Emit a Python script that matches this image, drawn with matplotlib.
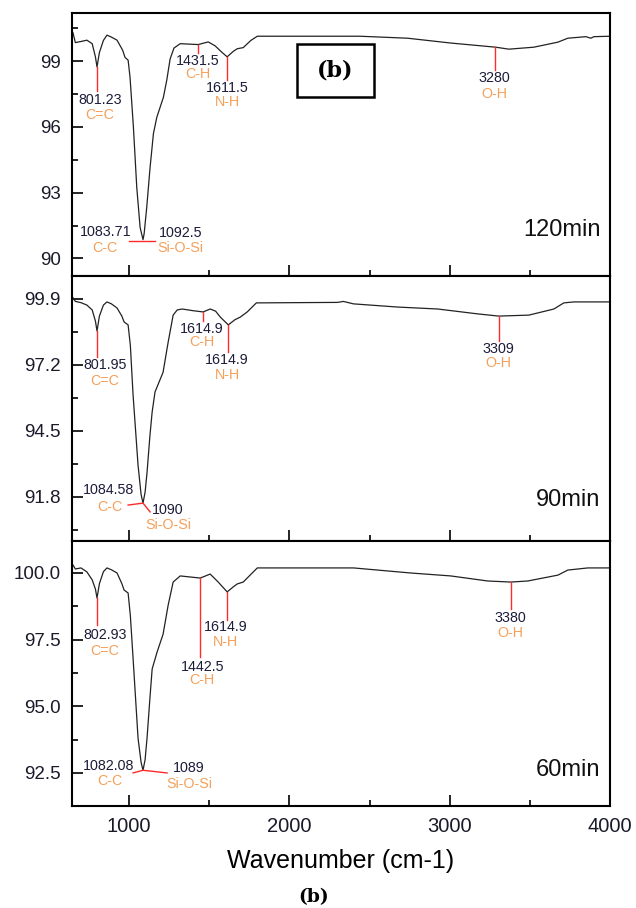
import numpy as np
import matplotlib.pyplot as plt
from matplotlib.patches import Rectangle
from matplotlib.ticker import MultipleLocator

plt.rcParams['font.family'] = ['Liberation Sans', 'DejaVu Sans']

# FTIR transmittance spectra (wavenumber, %T)
wn_120 = [650, 665, 700, 737, 770, 790, 800, 815, 840, 862, 890, 925, 960, 975, 994,
          1006, 1027, 1048, 1069, 1087, 1094, 1110, 1131, 1152, 1173, 1214, 1235, 1256,
          1280, 1319, 1431, 1494, 1537, 1580, 1612, 1650, 1675, 1712, 1760, 1800, 2440,
          2737, 3006, 3287, 3369, 3525, 3675, 3737, 3850, 3880, 3900, 4000]
t_120 = [100.3, 99.85, 99.9, 99.96, 99.8, 99.2, 98.74, 99.4, 99.95, 100.19, 100.1, 99.96,
         99.5, 99.17, 99.05, 98.27, 96.0, 93.24, 91.41, 90.86, 91.13, 92.32, 94.15, 95.7,
         96.44, 97.35, 98.13, 99.1, 99.6, 99.8, 99.76, 99.88, 99.7, 99.4, 99.2, 99.45,
         99.57, 99.62, 99.95, 100.14, 100.14, 100.05, 99.83, 99.64, 99.55, 99.64, 99.87,
         100.05, 100.12, 100.05, 100.12, 100.14]

wn_90 = [650, 665, 700, 737, 770, 790, 800, 815, 840, 862, 890, 925, 955, 969, 994,
         1008, 1025, 1056, 1075, 1087, 1100, 1112, 1130, 1144, 1162, 1212, 1244, 1275,
         1300, 1331, 1400, 1462, 1506, 1540, 1569, 1619, 1660, 1694, 1737, 1794, 2300,
         2337, 2400, 2675, 2925, 3175, 3306, 3494, 3650, 3712, 3775, 4000]
t_90 = [99.95, 99.8, 99.75, 99.65, 99.45, 99.0, 98.59, 99.2, 99.65, 99.78, 99.7, 99.53,
        99.2, 98.96, 98.84, 98.0, 95.97, 93.1, 91.9, 91.55, 92.0, 92.8, 94.3, 95.28, 96.1,
        96.9, 98.14, 99.24, 99.45, 99.49, 99.42, 99.37, 99.49, 99.4, 99.16, 98.84, 99.05,
        99.16, 99.37, 99.74, 99.76, 99.8, 99.7, 99.57, 99.49, 99.29, 99.2, 99.24, 99.49,
        99.74, 99.78, 99.78]

wn_60 = [650, 665, 700, 737, 770, 790, 800, 815, 840, 862, 890, 925, 955, 969, 994,
         1008, 1025, 1056, 1075, 1087, 1100, 1112, 1130, 1144, 1175, 1212, 1244, 1275,
         1319, 1444, 1506, 1556, 1612, 1650, 1675, 1712, 1760, 1800, 2400, 2756, 3006,
         3237, 3381, 3487, 3675, 3737, 3862, 4000]
t_60 = [100.3, 100.15, 100.19, 100.04, 99.74, 99.4, 99.06, 99.6, 100.05, 100.19, 100.12,
        100.0, 99.6, 99.36, 99.25, 98.4, 96.8, 93.8, 92.9, 92.6, 93.0, 93.8, 95.3, 96.4,
        97.04, 97.7, 98.8, 99.66, 99.89, 99.81, 99.96, 99.66, 99.29, 99.48, 99.59, 99.66,
        99.95, 100.19, 100.19, 100.0, 99.89, 99.7, 99.66, 99.7, 99.92, 100.11, 100.19,
        100.19]

panel_names = ['120min', '90min', '60min']
y_ticks = [[90, 93, 96, 99], [91.8, 94.5, 97.2, 99.9], [92.5, 95.0, 97.5, 100.0]]
y_fmt = ['{:.0f}', '{:.1f}', '{:.1f}']
y_lims = [(89.2, 101.2), (90.0, 100.84), (91.26, 101.2)]

# peak labels: (peak wn, peak %T, number, group)
peaks_120 = [(800, 98.74, '801.23', 'C=C'), (1431, 99.76, '1431.5', 'C-H'),
             (1612, 99.2, '1611.5', 'N-H'), (3281, 99.64, '3280', 'O-H')]
peaks_90 = [(800, 98.59, '801.95', 'C=C'), (1462, 99.37, '1614.9', 'C-H'),
            (1619, 98.84, '1614.9', 'N-H'), (3306, 99.2, '3309', 'O-H')]
peaks_60 = [(800, 99.06, '802.93', 'C=C'), (1444, 99.81, '1442.5', 'C-H'),
            (1612, 99.29, '1614.9', 'N-H'), (3381, 99.66, '3380', 'O-H')]

# label placement per peak: (line end %T, text wn, number %T, group %T)
place_120 = [(97.63, 819, 97.22, 96.53), (99.37, 1431, 99.02, 98.4),
             (98.13, 1612, 97.8, 97.13), (98.59, 3281, 98.22, 97.5)]
place_90 = [(97.53, 850, 97.2, 96.55), (99.0, 1456, 98.67, 98.14),
            (97.73, 1612, 97.4, 96.79), (98.18, 3306, 97.85, 97.28)]
place_60 = [(98.05, 850, 97.68, 97.08), (96.85, 1456, 96.48, 95.99),
            (98.24, 1600, 97.98, 97.41), (98.65, 3381, 98.31, 97.75)]

# Si-O band pair labels: red bracket path, then (text, x, y) items
band_120 = ([1000, 1087, 1162], [90.81, 90.81, 90.81],
            [('1083.71', 856, 91.23, 'n'), ('C-C', 850, 90.5, 'g'),
             ('1092.5', 1319, 91.14, 'n'), ('Si-O-Si', 1319, 90.5, 'g')])
band_90 = ([994, 1087, 1131], [91.47, 91.55, 91.19],
           [('1084.58', 869, 92.08, 'n'), ('C-C', 881, 91.39, 'g'),
            ('1090', 1244, 91.27, 'n'), ('Si-O-Si', 1244, 90.65, 'g')])
band_60 = ([1025, 1087, 1237], [92.5, 92.6, 92.5],
           [('1082.08', 869, 92.77, 'n'), ('C-C', 881, 92.2, 'g'),
            ('1089', 1369, 92.69, 'n'), ('Si-O-Si', 1375, 92.09, 'g')])

spectra = [(wn_120, t_120), (wn_90, t_90), (wn_60, t_60)]
peaks = [peaks_120, peaks_90, peaks_60]
places = [place_120, place_90, place_60]
bands = [band_120, band_90, band_60]
name_pos = [0.175, 0.155, 0.136]

num_col = '#1c1c3a'
grp_col = '#f5a05a'
red = '#ff2a2a'
fs_ann = 10.3

fig = plt.figure(figsize=(6.36, 9.08), dpi=100)
left, width = 72 / 636, 538 / 636
boxes = [(1 - 276 / 908, 263 / 908), (1 - 541 / 908, 265 / 908), (1 - 806 / 908, 265 / 908)]

for i in range(3):
    ax = fig.add_axes([left, boxes[i][0], width, boxes[i][1]])
    wn, t = spectra[i]
    ax.plot(wn, t, color='#222222', lw=0.9)

    for (pw, pt, num, grp), (yend, tx, ny, gy) in zip(peaks[i], places[i]):
        ax.plot([pw, pw], [pt, yend], color=red, lw=1)
        ax.text(tx, ny, num, color=num_col, fontsize=fs_ann, ha='center', va='center')
        ax.text(tx, gy, grp, color=grp_col, fontsize=fs_ann, ha='center', va='center')

    bx, by, items = bands[i]
    ax.plot(bx, by, color=red, lw=1)
    for txt, x, y, kind in items:
        ax.text(x, y, txt, color=num_col if kind == 'n' else grp_col,
                fontsize=fs_ann, ha='center', va='center')

    ax.text(0.982, name_pos[i], panel_names[i], transform=ax.transAxes,
            fontsize=17, ha='right', va='center', color='#111111')

    ax.set_xlim(644, 4000)
    ax.set_ylim(*y_lims[i])
    ax.set_yticks(y_ticks[i])
    ax.set_yticklabels([y_fmt[i].format(v) for v in y_ticks[i]])
    ax.yaxis.set_minor_locator(MultipleLocator((y_ticks[i][1] - y_ticks[i][0]) / 2))
    ax.xaxis.set_major_locator(MultipleLocator(1000))
    ax.xaxis.set_minor_locator(MultipleLocator(500))
    ax.tick_params(which='major', direction='in', length=8, width=1.2,
                   top=False, right=False, labelcolor='#1a1a2a')
    ax.tick_params(which='minor', direction='in', length=4, width=1.2,
                   top=False, right=False)
    ax.tick_params(axis='y', labelsize=13.5, pad=8)
    for s in ax.spines.values():
        s.set_linewidth(1.5)
    if i < 2:
        ax.tick_params(labelbottom=False)
    else:
        ax.tick_params(axis='x', labelsize=14.5, pad=8)
        ax.set_xlabel('Wavenumber (cm-1)', fontsize=18, labelpad=9)

    if i == 0:
        ax.add_patch(Rectangle((0.418, 0.681), 0.143, 0.201, transform=ax.transAxes,
                               fill=False, lw=1.8, ec='black'))
        ax.text(0.4895, 0.78, '(b)', transform=ax.transAxes, fontsize=16,
                fontweight='bold', family='DejaVu Serif', ha='center', va='center')

fig.text(314 / 636, 1 - 897 / 908, '(b)', fontsize=13.5, fontweight='bold',
         family='DejaVu Serif', ha='center', va='center')

fig.savefig('out.png', dpi=100)
